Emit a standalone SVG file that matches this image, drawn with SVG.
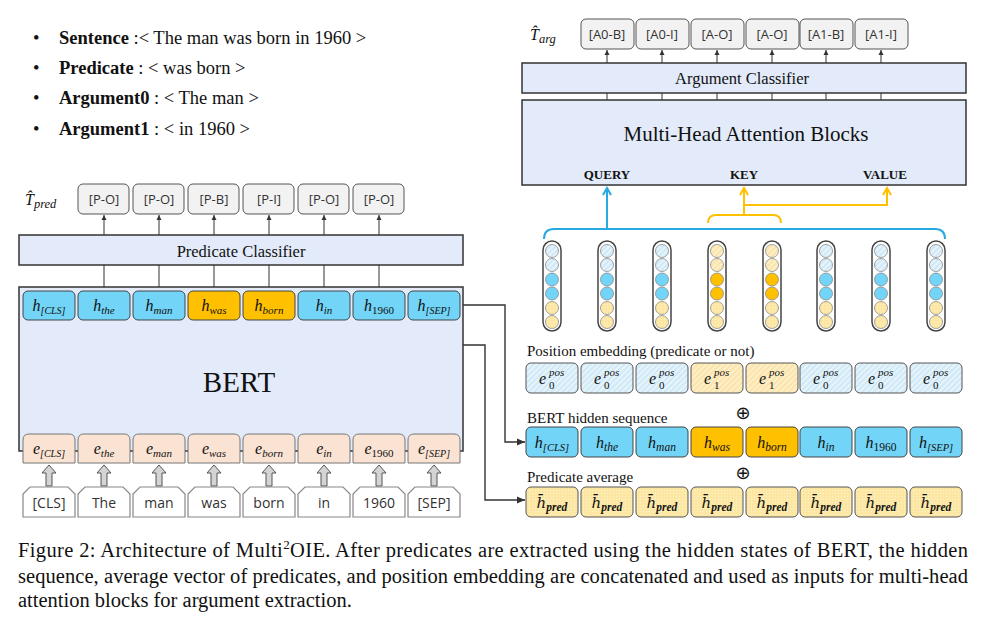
<svg xmlns="http://www.w3.org/2000/svg" width="993" height="630" viewBox="0 0 993 630">
<defs>
<style>
.sf{font-family:"Liberation Serif","Times New Roman",serif;}
.m{font-family:"Liberation Serif","Times New Roman",serif;font-style:italic;font-size:16px;fill:#111;}
.lbl{fill:#f2f2f2;stroke:#555;stroke-width:1;}
.lbt{font-family:"Open Sans","Noto Sans","Liberation Sans",sans-serif;font-size:13px;fill:#333;text-anchor:middle;}
.panel{fill:#e3ebfa;stroke:#333;stroke-width:1.5;}
.hb{fill:#72d4f6;stroke:#444;stroke-width:1;}
.ho{fill:#ffc000;stroke:#444;stroke-width:1;}
.ec{fill:#fbe3d3;stroke:#777;stroke-width:1;}
.wb{fill:#fff;stroke:#888;stroke-width:1.2;}
.wt{font-family:"Open Sans","Noto Sans","Liberation Sans",sans-serif;font-size:14px;fill:#333;text-anchor:middle;}
.ga{fill:#d4d4d4;stroke:#555;stroke-width:1;}
.ln{fill:none;stroke:#333;stroke-width:1;}
.lnk{fill:none;stroke:#333;stroke-width:1.4;}
.bl{fill:none;stroke:#27a9e1;stroke-width:2;}
.yl{fill:none;stroke:#ffc000;stroke-width:2;}
.pill{fill:#fff;stroke:#444;stroke-width:1.5;}
.cb{stroke:#8a8a8a;stroke-width:0.8;}
.pb{fill:url(#hbp);stroke:#555;stroke-width:1;}
.py{fill:url(#hyp);stroke:#555;stroke-width:1;}
.pd{fill:url(#dyp);stroke:#555;stroke-width:1;}
.ca{font-family:"Liberation Serif","Times New Roman",serif;font-size:20.5px;fill:#111;}
.sup{font-family:"Liberation Serif","Times New Roman",serif;font-style:italic;font-size:11px;fill:#111;}
.sub{font-family:"Liberation Serif","Times New Roman",serif;font-style:normal;font-size:11px;fill:#111;}
.hbar{font-family:"DejaVu Serif","Liberation Serif",serif;font-style:italic;font-size:15px;}
</style>
<pattern id="hbp" width="4" height="4" patternUnits="userSpaceOnUse" patternTransform="rotate(45)"><rect width="4" height="4" fill="#cfe9f7"/><line x1="1" y1="0" x2="1" y2="4" stroke="#f2fafe" stroke-width="1.4"/></pattern>
<pattern id="hyp" width="4" height="4" patternUnits="userSpaceOnUse" patternTransform="rotate(45)"><rect width="4" height="4" fill="#fbe4a8"/><line x1="1" y1="0" x2="1" y2="4" stroke="#fff5dc" stroke-width="1.4"/></pattern>
<pattern id="dyp" width="3" height="3" patternUnits="userSpaceOnUse"><rect width="3" height="3" fill="#fce6a0"/><circle cx="1.5" cy="1.5" r="0.7" fill="#fff3cf"/></pattern>
<marker id="ah" markerWidth="6" markerHeight="6" refX="5" refY="3" orient="auto" markerUnits="userSpaceOnUse"><path d="M0,0.5 L5,3 L0,5.5 z" fill="#333"/></marker>
<marker id="ahb" markerWidth="10" markerHeight="10" refX="8" refY="5" orient="auto" markerUnits="userSpaceOnUse"><path d="M1,1 L8,5 L1,9" fill="none" stroke="#27a9e1" stroke-width="2"/></marker>
<marker id="ahy" markerWidth="10" markerHeight="10" refX="8" refY="5" orient="auto" markerUnits="userSpaceOnUse"><path d="M1,1 L8,5 L1,9" fill="none" stroke="#ffc000" stroke-width="2"/></marker>
<marker id="ahk" markerWidth="9" markerHeight="9" refX="8" refY="4.5" orient="auto" markerUnits="userSpaceOnUse"><path d="M0,1 L8,4.5 L0,8 z" fill="#333"/></marker>
</defs>
<rect width="993" height="630" fill="#fff"/>

<g id="bullets" class="sf" font-size="18.5" fill="#111">
<text x="33" y="44">•</text><text x="59" y="44"><tspan font-weight="bold">Sentence</tspan> :&lt; The man was born in 1960 &gt;</text>
<text x="33" y="74">•</text><text x="59" y="74"><tspan font-weight="bold">Predicate</tspan> : &lt; was born &gt;</text>
<text x="33" y="104">•</text><text x="59" y="104"><tspan font-weight="bold">Argument0</tspan> : &lt; The man &gt;</text>
<text x="33" y="135">•</text><text x="59" y="135"><tspan font-weight="bold">Argument1</tspan> : &lt; in 1960 &gt;</text>
</g>

<g id="connectors">
<path class="ln" d="M104,291V265M159,291V265M214,291V265M269,291V265M324,291V265M379,291V265"/>
<path class="ln" marker-end="url(#ah)" d="M104,235V215"/>
<path class="ln" marker-end="url(#ah)" d="M159,235V215"/>
<path class="ln" marker-end="url(#ah)" d="M214,235V215"/>
<path class="ln" marker-end="url(#ah)" d="M269,235V215"/>
<path class="ln" marker-end="url(#ah)" d="M324,235V215"/>
<path class="ln" marker-end="url(#ah)" d="M379,235V215"/>
<path class="lnk" d="M189,321 Q189,329 197,329 L286,329 Q294,329 294,321"/>
<path class="lnk" marker-end="url(#ahk)" d="M242,329 V345 H485 V500 H525"/>
<path class="lnk" marker-end="url(#ahk)" d="M459,305 H505 V442 H525"/>
<path class="ln" d="M607,100V93M662,100V93M717,100V93M772,100V93M826,100V93M881,100V93"/>
<path class="ln" marker-end="url(#ah)" d="M607,63V50"/>
<path class="ln" marker-end="url(#ah)" d="M662,63V50"/>
<path class="ln" marker-end="url(#ah)" d="M717,63V50"/>
<path class="ln" marker-end="url(#ah)" d="M772,63V50"/>
<path class="ln" marker-end="url(#ah)" d="M826,63V50"/>
<path class="ln" marker-end="url(#ah)" d="M881,63V50"/>
<path class="bl" d="M544,239 Q544,229 554,229 L935,229 Q945,229 945,239"/>
<path class="bl" marker-end="url(#ahb)" d="M607,229 V188"/>
<path class="yl" d="M708,223 Q708,215 716,215 L773,215 Q781,215 781,223"/>
<path class="yl" marker-end="url(#ahy)" d="M744,215 V188"/>
<path class="yl" marker-end="url(#ahy)" d="M744,205 H887 V188"/>
<g class="ga">
<path d="M49,465 L56,473 L52,473 L52,486 L46,486 L46,473 L42,473 Z"/>
<path d="M104,465 L111,473 L107,473 L107,486 L101,486 L101,473 L97,473 Z"/>
<path d="M159,465 L166,473 L162,473 L162,486 L156,486 L156,473 L152,473 Z"/>
<path d="M214,465 L221,473 L217,473 L217,486 L211,486 L211,473 L207,473 Z"/>
<path d="M269,465 L276,473 L272,473 L272,486 L266,486 L266,473 L262,473 Z"/>
<path d="M324,465 L331,473 L327,473 L327,486 L321,486 L321,473 L317,473 Z"/>
<path d="M379,465 L386,473 L382,473 L382,486 L376,486 L376,473 L372,473 Z"/>
<path d="M434,465 L441,473 L437,473 L437,486 L431,486 L431,473 L427,473 Z"/>
</g>
</g>

<g id="t-pred-labels">
<text class="m" x="25" y="205" font-size="18">T̂<tspan font-size="12.5" dy="3">pred</tspan></text>
<rect class="lbl" x="78" y="184" width="51" height="30" rx="5"/><text class="lbt" x="104" y="204">[P-O]</text>
<rect class="lbl" x="133" y="184" width="51" height="30" rx="5"/><text class="lbt" x="159" y="204">[P-O]</text>
<rect class="lbl" x="188" y="184" width="51" height="30" rx="5"/><text class="lbt" x="214" y="204">[P-B]</text>
<rect class="lbl" x="243" y="184" width="51" height="30" rx="5"/><text class="lbt" x="269" y="204">[P-I]</text>
<rect class="lbl" x="298" y="184" width="51" height="30" rx="5"/><text class="lbt" x="324" y="204">[P-O]</text>
<rect class="lbl" x="353" y="184" width="51" height="30" rx="5"/><text class="lbt" x="379" y="204">[P-O]</text>
</g>

<g id="predicate-classifier">
<rect class="panel" x="19" y="235" width="444" height="30"/>
<text class="sf" x="241" y="257" font-size="16.5" text-anchor="middle" fill="#111">Predicate Classifier</text>
</g>

<g id="bert">
<rect class="panel" x="19" y="287" width="444" height="164"/>
<text class="sf" x="239" y="392" font-size="29" text-anchor="middle" fill="#111">BERT</text>
</g>

<g id="bert-hidden">
<rect class="hb" x="23" y="291" width="52" height="29" rx="5"/><text class="m" x="49" y="311" text-anchor="middle">h<tspan font-size="10" dy="3">[CLS]</tspan></text>
<rect class="hb" x="78" y="291" width="52" height="29" rx="5"/><text class="m" x="104" y="311" text-anchor="middle">h<tspan font-size="11" dy="3">the</tspan></text>
<rect class="hb" x="133" y="291" width="52" height="29" rx="5"/><text class="m" x="159" y="311" text-anchor="middle">h<tspan font-size="11" dy="3">man</tspan></text>
<rect class="ho" x="188" y="291" width="52" height="29" rx="5"/><text class="m" x="214" y="311" text-anchor="middle">h<tspan font-size="11" dy="3">was</tspan></text>
<rect class="ho" x="243" y="291" width="52" height="29" rx="5"/><text class="m" x="269" y="311" text-anchor="middle">h<tspan font-size="11" dy="3">born</tspan></text>
<rect class="hb" x="298" y="291" width="52" height="29" rx="5"/><text class="m" x="324" y="311" text-anchor="middle">h<tspan font-size="11" dy="3">in</tspan></text>
<rect class="hb" x="353" y="291" width="52" height="29" rx="5"/><text class="m" x="379" y="311" text-anchor="middle">h<tspan font-size="11" dy="3" font-style="normal">1960</tspan></text>
<rect class="hb" x="408" y="291" width="52" height="29" rx="5"/><text class="m" x="434" y="311" text-anchor="middle">h<tspan font-size="10" dy="3">[SEP]</tspan></text>
</g>

<g id="bert-embeddings">
<path class="ec" d="M23,463 L23,440 Q23,434 29,434 L69,434 Q75,434 75,440 L75,463 Z"/><text class="m" x="49" y="454" text-anchor="middle" font-size="15">e<tspan font-size="10" dy="3">[CLS]</tspan></text>
<path class="ec" d="M78,463 L78,440 Q78,434 84,434 L124,434 Q130,434 130,440 L130,463 Z"/><text class="m" x="104" y="454" text-anchor="middle" font-size="15">e<tspan font-size="11" dy="3">the</tspan></text>
<path class="ec" d="M133,463 L133,440 Q133,434 139,434 L179,434 Q185,434 185,440 L185,463 Z"/><text class="m" x="159" y="454" text-anchor="middle" font-size="15">e<tspan font-size="11" dy="3">man</tspan></text>
<path class="ec" d="M188,463 L188,440 Q188,434 194,434 L234,434 Q240,434 240,440 L240,463 Z"/><text class="m" x="214" y="454" text-anchor="middle" font-size="15">e<tspan font-size="11" dy="3">was</tspan></text>
<path class="ec" d="M243,463 L243,440 Q243,434 249,434 L289,434 Q295,434 295,440 L295,463 Z"/><text class="m" x="269" y="454" text-anchor="middle" font-size="15">e<tspan font-size="11" dy="3">born</tspan></text>
<path class="ec" d="M298,463 L298,440 Q298,434 304,434 L344,434 Q350,434 350,440 L350,463 Z"/><text class="m" x="324" y="454" text-anchor="middle" font-size="15">e<tspan font-size="11" dy="3">in</tspan></text>
<path class="ec" d="M353,463 L353,440 Q353,434 359,434 L399,434 Q405,434 405,440 L405,463 Z"/><text class="m" x="379" y="454" text-anchor="middle" font-size="15">e<tspan font-size="11" dy="3" font-style="normal">1960</tspan></text>
<path class="ec" d="M408,463 L408,440 Q408,434 414,434 L454,434 Q460,434 460,440 L460,463 Z"/><text class="m" x="434" y="454" text-anchor="middle" font-size="15">e<tspan font-size="10" dy="3">[SEP]</tspan></text>
</g>

<g id="tokens">
<path class="wb" d="M23,517 L23,494 L30,487 L68,487 L75,494 L75,517 Z"/><text class="wt" x="49" y="508">[CLS]</text>
<path class="wb" d="M78,517 L78,494 L85,487 L123,487 L130,494 L130,517 Z"/><text class="wt" x="104" y="508">The</text>
<path class="wb" d="M133,517 L133,494 L140,487 L178,487 L185,494 L185,517 Z"/><text class="wt" x="159" y="508">man</text>
<path class="wb" d="M188,517 L188,494 L195,487 L233,487 L240,494 L240,517 Z"/><text class="wt" x="214" y="508">was</text>
<path class="wb" d="M243,517 L243,494 L250,487 L288,487 L295,494 L295,517 Z"/><text class="wt" x="269" y="508">born</text>
<path class="wb" d="M298,517 L298,494 L305,487 L343,487 L350,494 L350,517 Z"/><text class="wt" x="324" y="508">in</text>
<path class="wb" d="M353,517 L353,494 L360,487 L398,487 L405,494 L405,517 Z"/><text class="wt" x="379" y="508">1960</text>
<path class="wb" d="M408,517 L408,494 L415,487 L453,487 L460,494 L460,517 Z"/><text class="wt" x="434" y="508">[SEP]</text>
</g>

<g id="t-arg-labels">
<text class="m" x="530" y="40" font-size="18">T̂<tspan font-size="12.5" dy="3">arg</tspan></text>
<rect class="lbl" x="581" y="19" width="53" height="30" rx="5"/><text class="lbt" x="607" y="39">[A0-B]</text>
<rect class="lbl" x="636" y="19" width="53" height="30" rx="5"/><text class="lbt" x="662" y="39">[A0-I]</text>
<rect class="lbl" x="691" y="19" width="53" height="30" rx="5"/><text class="lbt" x="717" y="39">[A-O]</text>
<rect class="lbl" x="746" y="19" width="53" height="30" rx="5"/><text class="lbt" x="772" y="39">[A-O]</text>
<rect class="lbl" x="800" y="19" width="53" height="30" rx="5"/><text class="lbt" x="826" y="39">[A1-B]</text>
<rect class="lbl" x="855" y="19" width="53" height="30" rx="5"/><text class="lbt" x="881" y="39">[A1-I]</text>
</g>

<g id="argument-classifier">
<rect class="panel" x="522" y="63" width="444" height="30"/>
<text class="sf" x="742" y="84" font-size="16.5" text-anchor="middle" fill="#111">Argument Classifier</text>
</g>

<g id="attention">
<rect class="panel" x="522" y="100" width="444" height="85"/>
<text class="sf" x="746" y="141" font-size="21" text-anchor="middle" fill="#111">Multi-Head Attention Blocks</text>
<g class="sf" font-size="13" font-weight="bold" text-anchor="middle" fill="#111">
<text x="607" y="179">QUERY</text><text x="744" y="179">KEY</text><text x="885" y="179">VALUE</text>
</g>
</g>

<g id="columns">
<g>
<rect class="pill" x="543" y="241" width="18" height="90" rx="9"/>
<circle class="cb" cx="552" cy="251" r="6.5" fill="url(#hbp)"/><circle class="cb" cx="552" cy="265" r="6.5" fill="url(#hbp)"/><circle class="cb" cx="552" cy="279.5" r="6.5" fill="#72d4f6"/><circle class="cb" cx="552" cy="293.5" r="6.5" fill="#72d4f6"/><circle class="cb" cx="552" cy="308" r="6.5" fill="url(#dyp)"/><circle class="cb" cx="552" cy="322" r="6.5" fill="url(#dyp)"/>
</g>
<g>
<rect class="pill" x="598" y="241" width="18" height="90" rx="9"/>
<circle class="cb" cx="607" cy="251" r="6.5" fill="url(#hbp)"/><circle class="cb" cx="607" cy="265" r="6.5" fill="url(#hbp)"/><circle class="cb" cx="607" cy="279.5" r="6.5" fill="#72d4f6"/><circle class="cb" cx="607" cy="293.5" r="6.5" fill="#72d4f6"/><circle class="cb" cx="607" cy="308" r="6.5" fill="url(#dyp)"/><circle class="cb" cx="607" cy="322" r="6.5" fill="url(#dyp)"/>
</g>
<g>
<rect class="pill" x="653" y="241" width="18" height="90" rx="9"/>
<circle class="cb" cx="662" cy="251" r="6.5" fill="url(#hbp)"/><circle class="cb" cx="662" cy="265" r="6.5" fill="url(#hbp)"/><circle class="cb" cx="662" cy="279.5" r="6.5" fill="#72d4f6"/><circle class="cb" cx="662" cy="293.5" r="6.5" fill="#72d4f6"/><circle class="cb" cx="662" cy="308" r="6.5" fill="url(#dyp)"/><circle class="cb" cx="662" cy="322" r="6.5" fill="url(#dyp)"/>
</g>
<g>
<rect class="pill" x="708" y="241" width="18" height="90" rx="9"/>
<circle class="cb" cx="717" cy="251" r="6.5" fill="url(#hyp)"/><circle class="cb" cx="717" cy="265" r="6.5" fill="url(#hyp)"/><circle class="cb" cx="717" cy="279.5" r="6.5" fill="#ffc000"/><circle class="cb" cx="717" cy="293.5" r="6.5" fill="#ffc000"/><circle class="cb" cx="717" cy="308" r="6.5" fill="url(#dyp)"/><circle class="cb" cx="717" cy="322" r="6.5" fill="url(#dyp)"/>
</g>
<g>
<rect class="pill" x="763" y="241" width="18" height="90" rx="9"/>
<circle class="cb" cx="772" cy="251" r="6.5" fill="url(#hyp)"/><circle class="cb" cx="772" cy="265" r="6.5" fill="url(#hyp)"/><circle class="cb" cx="772" cy="279.5" r="6.5" fill="#ffc000"/><circle class="cb" cx="772" cy="293.5" r="6.5" fill="#ffc000"/><circle class="cb" cx="772" cy="308" r="6.5" fill="url(#dyp)"/><circle class="cb" cx="772" cy="322" r="6.5" fill="url(#dyp)"/>
</g>
<g>
<rect class="pill" x="817" y="241" width="18" height="90" rx="9"/>
<circle class="cb" cx="826" cy="251" r="6.5" fill="url(#hbp)"/><circle class="cb" cx="826" cy="265" r="6.5" fill="url(#hbp)"/><circle class="cb" cx="826" cy="279.5" r="6.5" fill="#72d4f6"/><circle class="cb" cx="826" cy="293.5" r="6.5" fill="#72d4f6"/><circle class="cb" cx="826" cy="308" r="6.5" fill="url(#dyp)"/><circle class="cb" cx="826" cy="322" r="6.5" fill="url(#dyp)"/>
</g>
<g>
<rect class="pill" x="872" y="241" width="18" height="90" rx="9"/>
<circle class="cb" cx="881" cy="251" r="6.5" fill="url(#hbp)"/><circle class="cb" cx="881" cy="265" r="6.5" fill="url(#hbp)"/><circle class="cb" cx="881" cy="279.5" r="6.5" fill="#72d4f6"/><circle class="cb" cx="881" cy="293.5" r="6.5" fill="#72d4f6"/><circle class="cb" cx="881" cy="308" r="6.5" fill="url(#dyp)"/><circle class="cb" cx="881" cy="322" r="6.5" fill="url(#dyp)"/>
</g>
<g>
<rect class="pill" x="927" y="241" width="18" height="90" rx="9"/>
<circle class="cb" cx="936" cy="251" r="6.5" fill="url(#hbp)"/><circle class="cb" cx="936" cy="265" r="6.5" fill="url(#hbp)"/><circle class="cb" cx="936" cy="279.5" r="6.5" fill="#72d4f6"/><circle class="cb" cx="936" cy="293.5" r="6.5" fill="#72d4f6"/><circle class="cb" cx="936" cy="308" r="6.5" fill="url(#dyp)"/><circle class="cb" cx="936" cy="322" r="6.5" fill="url(#dyp)"/>
</g>
</g>

<g id="position-embedding">
<text class="sf" x="527" y="356" font-size="15" fill="#111">Position embedding (predicate or not)</text>
<rect class="pb" x="526" y="363" width="52" height="30" rx="5"/><text class="m" x="539" y="384">e</text><text class="sup" x="549" y="375.5">pos</text><text class="sub" x="549" y="389">0</text>
<rect class="pb" x="581" y="363" width="52" height="30" rx="5"/><text class="m" x="594" y="384">e</text><text class="sup" x="604" y="375.5">pos</text><text class="sub" x="604" y="389">0</text>
<rect class="pb" x="636" y="363" width="52" height="30" rx="5"/><text class="m" x="649" y="384">e</text><text class="sup" x="659" y="375.5">pos</text><text class="sub" x="659" y="389">0</text>
<rect class="py" x="691" y="363" width="52" height="30" rx="5"/><text class="m" x="704" y="384">e</text><text class="sup" x="714" y="375.5">pos</text><text class="sub" x="714" y="389">1</text>
<rect class="py" x="746" y="363" width="52" height="30" rx="5"/><text class="m" x="759" y="384">e</text><text class="sup" x="769" y="375.5">pos</text><text class="sub" x="769" y="389">1</text>
<rect class="pb" x="800" y="363" width="52" height="30" rx="5"/><text class="m" x="813" y="384">e</text><text class="sup" x="823" y="375.5">pos</text><text class="sub" x="823" y="389">0</text>
<rect class="pb" x="855" y="363" width="52" height="30" rx="5"/><text class="m" x="868" y="384">e</text><text class="sup" x="878" y="375.5">pos</text><text class="sub" x="878" y="389">0</text>
<rect class="pb" x="910" y="363" width="52" height="30" rx="5"/><text class="m" x="923" y="384">e</text><text class="sup" x="933" y="375.5">pos</text><text class="sub" x="933" y="389">0</text>
</g>

<g id="hidden-sequence">
<text class="sf" x="527" y="423" font-size="15" fill="#111">BERT hidden sequence</text>
<text x="743" y="419" font-size="18" text-anchor="middle" fill="#111" font-family="DejaVu Sans, sans-serif">⊕</text>
<rect class="hb" x="526" y="427" width="52" height="30" rx="5"/><text class="m" x="552" y="448" text-anchor="middle" font-size="17">h<tspan font-size="10.5" dy="3">[CLS]</tspan></text>
<rect class="hb" x="581" y="427" width="52" height="30" rx="5"/><text class="m" x="607" y="448" text-anchor="middle" font-size="17">h<tspan font-size="11.5" dy="3">the</tspan></text>
<rect class="hb" x="636" y="427" width="52" height="30" rx="5"/><text class="m" x="662" y="448" text-anchor="middle" font-size="17">h<tspan font-size="11.5" dy="3">man</tspan></text>
<rect class="ho" x="691" y="427" width="52" height="30" rx="5"/><text class="m" x="717" y="448" text-anchor="middle" font-size="17">h<tspan font-size="11.5" dy="3">was</tspan></text>
<rect class="ho" x="746" y="427" width="52" height="30" rx="5"/><text class="m" x="772" y="448" text-anchor="middle" font-size="17">h<tspan font-size="11.5" dy="3">born</tspan></text>
<rect class="hb" x="800" y="427" width="52" height="30" rx="5"/><text class="m" x="826" y="448" text-anchor="middle" font-size="17">h<tspan font-size="11.5" dy="3">in</tspan></text>
<rect class="hb" x="855" y="427" width="52" height="30" rx="5"/><text class="m" x="881" y="448" text-anchor="middle" font-size="17">h<tspan font-size="11.5" dy="3" font-style="normal">1960</tspan></text>
<rect class="hb" x="910" y="427" width="52" height="30" rx="5"/><text class="m" x="936" y="448" text-anchor="middle" font-size="17">h<tspan font-size="10.5" dy="3">[SEP]</tspan></text>
</g>

<g id="predicate-average">
<text class="sf" x="527" y="482" font-size="15" fill="#111">Predicate average</text>
<text x="743" y="479" font-size="18" text-anchor="middle" fill="#111" font-family="DejaVu Sans, sans-serif">⊕</text>
<rect class="pd" x="526" y="487" width="52" height="30" rx="5"/><text class="m" x="552" y="508" text-anchor="middle" font-size="17"><tspan class="hbar">h̄</tspan><tspan font-size="11.5" dy="3" font-weight="bold">pred</tspan></text>
<rect class="pd" x="581" y="487" width="52" height="30" rx="5"/><text class="m" x="607" y="508" text-anchor="middle" font-size="17"><tspan class="hbar">h̄</tspan><tspan font-size="11.5" dy="3" font-weight="bold">pred</tspan></text>
<rect class="pd" x="636" y="487" width="52" height="30" rx="5"/><text class="m" x="662" y="508" text-anchor="middle" font-size="17"><tspan class="hbar">h̄</tspan><tspan font-size="11.5" dy="3" font-weight="bold">pred</tspan></text>
<rect class="pd" x="691" y="487" width="52" height="30" rx="5"/><text class="m" x="717" y="508" text-anchor="middle" font-size="17"><tspan class="hbar">h̄</tspan><tspan font-size="11.5" dy="3" font-weight="bold">pred</tspan></text>
<rect class="pd" x="746" y="487" width="52" height="30" rx="5"/><text class="m" x="772" y="508" text-anchor="middle" font-size="17"><tspan class="hbar">h̄</tspan><tspan font-size="11.5" dy="3" font-weight="bold">pred</tspan></text>
<rect class="pd" x="800" y="487" width="52" height="30" rx="5"/><text class="m" x="826" y="508" text-anchor="middle" font-size="17"><tspan class="hbar">h̄</tspan><tspan font-size="11.5" dy="3" font-weight="bold">pred</tspan></text>
<rect class="pd" x="855" y="487" width="52" height="30" rx="5"/><text class="m" x="881" y="508" text-anchor="middle" font-size="17"><tspan class="hbar">h̄</tspan><tspan font-size="11.5" dy="3" font-weight="bold">pred</tspan></text>
<rect class="pd" x="910" y="487" width="52" height="30" rx="5"/><text class="m" x="936" y="508" text-anchor="middle" font-size="17"><tspan class="hbar">h̄</tspan><tspan font-size="11.5" dy="3" font-weight="bold">pred</tspan></text>
</g>

<g id="caption">
<text class="ca" x="18" y="557" textLength="950" lengthAdjust="spacing">Figure 2: Architecture of Multi<tspan font-size="13" dy="-8">2</tspan><tspan dy="8">OIE. After predicates are extracted using the hidden states of BERT, the hidden</tspan></text>
<text class="ca" x="18" y="583" textLength="950" lengthAdjust="spacing">sequence, average vector of predicates, and position embedding are concatenated and used as inputs for multi-head</text>
<text class="ca" x="18" y="607">attention blocks for argument extraction.</text>
</g>
</svg>
